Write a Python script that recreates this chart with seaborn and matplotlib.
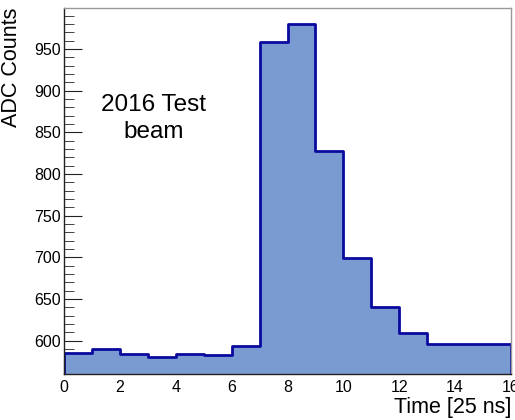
import matplotlib
matplotlib.use("Agg")
import matplotlib.pyplot as plt
from matplotlib.ticker import MultipleLocator
import seaborn as sns
import numpy as np

# ADC counts per 25 ns time sample
bin_edges = list(range(0, 17))
adc_counts = [585, 590, 584, 580, 583.5, 582.5, 594, 958, 979.5, 828,
              699.5, 640, 609, 595.5, 596, 595.5]
x_ticks = [0, 2, 4, 6, 8, 10, 12, 14, 16]
y_ticks = [600, 650, 700, 750, 800, 850, 900, 950]

sns.set_style("ticks")
plt.rcParams['font.family'] = ['Liberation Sans', 'DejaVu Sans']
plt.rcParams.update({"text.color": "black", "axes.labelcolor": "black",
                     "xtick.color": "black", "ytick.color": "black"})

centers = np.array(bin_edges[:-1]) + 0.5

fig = plt.figure(figsize=(5.15, 4.2), dpi=100)
ax = fig.add_axes([64 / 515, 46 / 420, 447 / 515, 366 / 420])

sns.histplot(x=centers, weights=adc_counts, bins=bin_edges, element="step",
             fill=True, color="#7a9bd1", alpha=1.0, edgecolor="#0a0a9e",
             linewidth=2, ax=ax)

ax.set_xlim(0, 16)
ax.set_ylim(560, 999)
ax.set_xticks(x_ticks)
ax.set_yticks(y_ticks)
ax.xaxis.set_minor_locator(MultipleLocator(0.5))
ax.yaxis.set_minor_locator(MultipleLocator(10))
ax.tick_params(axis="both", which="both", direction="in", labelsize=11.5,
               color="#222222", top=False, right=False)
ax.tick_params(axis="x", which="major", length=10, pad=4)
ax.tick_params(axis="x", which="minor", length=5)
ax.tick_params(axis="y", which="major", length=13, pad=2)
ax.tick_params(axis="y", which="minor", length=7)

for side in ["top", "right"]:
    ax.spines[side].set_color("#999999")
    ax.spines[side].set_linewidth(1)
for side in ["left", "bottom"]:
    ax.spines[side].set_color("#222222")
    ax.spines[side].set_linewidth(1)

ax.set_ylabel("ADC Counts", fontsize=15.5)
ax.yaxis.set_label_coords(-0.095, 1.0)
ax.yaxis.label.set_horizontalalignment("right")
ax.set_xlabel("Time [25 ns]", fontsize=15.5)
ax.xaxis.set_label_coords(1.0, -0.062)
ax.xaxis.label.set_horizontalalignment("right")

ax.text(3.2, 866, "2016 Test\nbeam", fontsize=17.5, ha="center", va="center",
        linespacing=1.3)

fig.savefig("out.png", dpi=100)
